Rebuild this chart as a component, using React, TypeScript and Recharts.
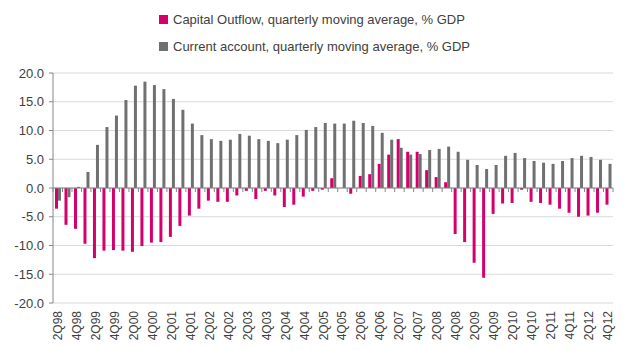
import React from "react";
import { BarChart, Bar, XAxis, YAxis, CartesianGrid, ReferenceLine } from "recharts";

const quarters = [
  "2Q98", "3Q98", "4Q98",
  "1Q99", "2Q99", "3Q99", "4Q99",
  "1Q00", "2Q00", "3Q00", "4Q00",
  "1Q01", "2Q01", "3Q01", "4Q01",
  "1Q02", "2Q02", "3Q02", "4Q02",
  "1Q03", "2Q03", "3Q03", "4Q03",
  "1Q04", "2Q04", "3Q04", "4Q04",
  "1Q05", "2Q05", "3Q05", "4Q05",
  "1Q06", "2Q06", "3Q06", "4Q06",
  "1Q07", "2Q07", "3Q07", "4Q07",
  "1Q08", "2Q08", "3Q08", "4Q08",
  "1Q09", "2Q09", "3Q09", "4Q09",
  "1Q10", "2Q10", "3Q10", "4Q10",
  "1Q11", "2Q11", "3Q11", "4Q11",
  "1Q12", "2Q12", "3Q12", "4Q12",
];

const capitalOutflow = [
  -3.6, -6.4, -7.1,
  -9.7, -12.2, -10.9, -10.8,
  -10.9, -11.1, -10.1, -9.5,
  -9.4, -8.5, -6.6, -4.8,
  -3.6, -2.2, -2.4, -2.4,
  -1.3, -0.5, -1.9, -0.5,
  -1.3, -3.3, -2.9, -1.5,
  -0.5, -0.3, 1.7, 0,
  -1.0, 2.1, 2.4, 4.2,
  5.8, 8.5, 6.3, 6.3,
  3.1, 1.9, 1.0, -8.0,
  -9.4, -13.0, -15.6, -4.5,
  -2.7, -2.6, -0.3, -2.4,
  -2.6, -2.9, -3.6, -4.3,
  -5.0, -4.8, -4.3, -2.9,
];

const currentAccount = [
  -2.2, -1.6, 0.2,
  2.8, 7.5, 10.6, 12.6,
  15.3, 17.8, 18.5, 17.9,
  17.2, 15.5, 13.6, 11.2,
  9.2, 8.5, 8.2, 8.4,
  9.4, 9.1, 8.5, 8.2,
  7.8, 8.4, 9.2, 10.1,
  10.6, 11.3, 11.2, 11.2,
  11.7, 11.3, 10.8, 9.6,
  8.4, 7.0, 5.8, 5.9,
  6.6, 6.8, 7.2, 6.3,
  4.9, 4.0, 3.3, 4.0,
  5.6, 6.1, 5.2, 4.7,
  4.4, 4.2, 4.7, 5.2,
  5.6, 5.4, 4.9, 4.2,
];

const yTicks = [-20, -15, -10, -5, 0, 5, 10, 15, 20];

const PINK = "#d4006c";
const GRAY = "#707070";
const AXIS = "#868686";
const FONT = "'Liberation Sans', Arial, sans-serif";

const data = quarters.map((q, i) => ({
  q,
  outflow: capitalOutflow[i],
  current: currentAccount[i],
}));

function QuarterTick(props: any) {
  const { x, y, index, payload } = props;
  if (index % 2 !== 0) return null;
  return (
    <text
      x={x}
      y={y}
      transform={`rotate(-90, ${x}, ${y})`}
      textAnchor="end"
      dominantBaseline="central"
      fontSize={12}
      fontFamily={FONT}
      fill="#404040"
    >
      {payload.value}
    </text>
  );
}

// x axis line sits at zero, with a tick at every category boundary
function ZeroAxis(props: any) {
  const { x1, y1, x2, y2 } = props;
  const n = quarters.length;
  const step = (x2 - x1) / n;
  const marks = [];
  for (let i = 0; i <= n; i++) {
    const tx = x1 + step * i;
    marks.push(<line key={i} x1={tx} y1={y1} x2={tx} y2={y1 + 4} stroke={AXIS} strokeWidth={1} />);
  }
  return (
    <g>
      <line x1={x1} y1={y1} x2={x2} y2={y2} stroke={AXIS} strokeWidth={1} />
      {marks}
    </g>
  );
}

function LegendRow({ color, label }: { color: string; label: string }) {
  return (
    <div style={{ display: "flex", alignItems: "center", height: 27 }}>
      <span style={{ width: 9, height: 9, background: color, marginRight: 5 }} />
      <span style={{ fontSize: 13, color: "#404040" }}>{label}</span>
    </div>
  );
}

export default function App() {
  return (
    <div style={{ position: "absolute", left: 0, top: 0, width: 628, height: 350, background: "#fff", fontFamily: FONT }}>
      <div style={{ position: "absolute", left: 159, top: 6 }}>
        <LegendRow color={PINK} label="Capital Outflow, quarterly moving average, % GDP" />
        <LegendRow color={GRAY} label="Current account, quarterly moving average, % GDP" />
      </div>
      <BarChart
        width={628}
        height={350}
        data={data}
        margin={{ top: 73, right: 15, bottom: 0, left: 0 }}
        barGap={0}
        barCategoryGap="20%"
      >
        <CartesianGrid vertical={false} stroke="#d9d9d9" />
        <XAxis
          dataKey="q"
          interval={0}
          axisLine={false}
          tickLine={false}
          height={47}
          tick={<QuarterTick />}
        />
        <YAxis
          width={53}
          domain={[-20, 20]}
          ticks={yTicks}
          interval={0}
          tickFormatter={(v: number) => v.toFixed(1)}
          axisLine={{ stroke: AXIS }}
          tickLine={{ stroke: AXIS }}
          tickSize={4}
          tickMargin={5}
          tick={{ fontSize: 13, fill: "#404040", fontFamily: FONT }}
        />
        <Bar dataKey="outflow" fill={PINK} barSize={3} isAnimationActive={false} />
        <Bar dataKey="current" fill={GRAY} barSize={3} isAnimationActive={false} />
        <ReferenceLine y={0} shape={<ZeroAxis />} />
      </BarChart>
    </div>
  );
}
